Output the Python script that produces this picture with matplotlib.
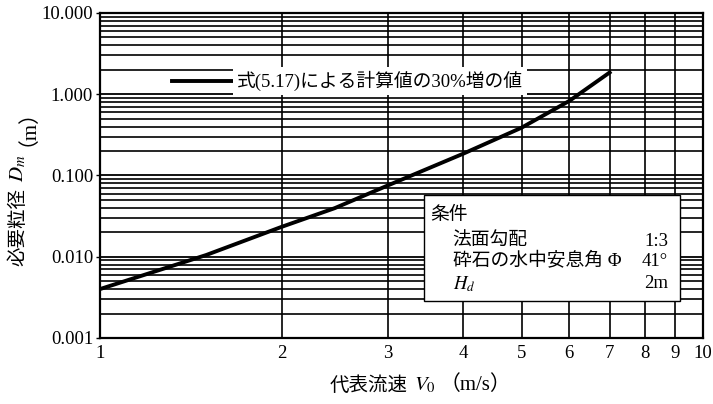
import numpy as np
import matplotlib.pyplot as plt
from matplotlib.ticker import FixedLocator, NullFormatter, NullLocator

plt.rcParams['mathtext.fontset'] = 'stix'

SERIF = 'Liberation Serif'
JP = ['Noto Sans CJK JP', 'DejaVu Sans']
# serif for latin/digits, CJK font for the Japanese characters
MIX = [SERIF, 'Noto Sans CJK JP', 'DejaVu Sans']

# curve
velocity = [1.0, 1.5, 2.0, 2.45, 3.0, 4.0, 5.0, 6.0, 7.0]
diameter = [0.0040, 0.0105, 0.0233, 0.0396, 0.0753, 0.185, 0.387, 0.826, 1.85]

x_ticks = [1, 2, 3, 4, 5, 6, 7, 8, 9, 10]
y_ticks = [0.001, 0.01, 0.1, 1.0, 10.0]
y_labels = ['0.001', '0.010', '0.100', '1.000', '10.000']

legend_text = '式(5.17)による計算値の30%増の値'
cond_rows = [('法面勾配', '1:3'), ('砕石の水中安息角 Φ', '41°'), ('$H_d$', '2m')]

fig = plt.figure(figsize=(7.13, 4.04), dpi=100)
ax = fig.add_axes([0.1403, 0.1634, 0.8457, 0.8045])
ax.set_xscale('log')
ax.set_yscale('log')
ax.set_xlim(1, 10)
ax.set_ylim(0.001, 10)

# log paper grid
for dec in [0.001, 0.01, 0.1, 1.0]:
    for m in range(2, 10):
        ax.axhline(dec * m, color='black', lw=1.2, zorder=1)
    ax.axhline(dec, color='black', lw=1.3, zorder=1)
for xv in x_ticks[1:-1]:
    ax.axvline(xv, color='black', lw=1.2, zorder=1)

ax.plot(velocity, diameter, color='black', lw=2.8, zorder=3,
        solid_joinstyle='round')

ax.xaxis.set_major_locator(FixedLocator(x_ticks))
ax.xaxis.set_minor_locator(NullLocator())
ax.set_xticklabels([str(v) for v in x_ticks], fontfamily=SERIF, fontsize=13.5)
ax.yaxis.set_major_locator(FixedLocator(y_ticks))
ax.yaxis.set_minor_locator(NullLocator())
ax.yaxis.set_minor_formatter(NullFormatter())
ax.set_yticklabels(y_labels, fontfamily=SERIF, fontsize=13.5)
ax.tick_params(axis='x', length=0, pad=5)
ax.tick_params(axis='y', length=3, width=1, pad=2)
for s in ax.spines.values():
    s.set_linewidth(1.6)

# legend line + text with blanked background
ax.plot([0.119, 0.224], [0.791, 0.791], transform=ax.transAxes,
        color='black', lw=2.8, zorder=4)
ax.text(0.227, 0.791, legend_text, transform=ax.transAxes, fontsize=13.5,
        va='center', ha='left', family=MIX, zorder=4,
        bbox=dict(facecolor='white', edgecolor='none', pad=3))

# conditions box
box = plt.Rectangle((0.537, 0.114), 0.424, 0.325, transform=ax.transAxes,
                    facecolor='white', edgecolor='black', lw=1.0, zorder=5)
ax.add_patch(box)
ax.text(0.548, 0.378, '条件', transform=ax.transAxes, fontsize=13.5,
        va='center', ha='left', family=MIX, zorder=6)
row_y = [0.298, 0.235, 0.167]
for (lab, val), yy in zip(cond_rows, row_y):
    ax.text(0.585, yy, lab, transform=ax.transAxes, fontsize=13.5,
            va='center', ha='left', family=MIX, zorder=6)
    ax.text(0.942, yy, val, transform=ax.transAxes, fontsize=13.5,
            va='center', ha='right', family=MIX, zorder=6)

# axis labels, built from pieces so each part gets its own font
fig.text(0.571, 0.047, '代表流速', fontsize=14, family=JP,
         ha='right', va='center')
fig.text(0.581, 0.047, '$V_0$', fontsize=15, ha='left', va='center')
fig.text(0.617, 0.047, '（m/s）', fontsize=15, family=MIX,
         ha='left', va='center')

fig.text(0.025, 0.439, '必要粒径', fontsize=14, family=JP,
         ha='center', va='center', rotation=90)
fig.text(0.025, 0.583, '$D_m$', fontsize=15,
         ha='center', va='center', rotation=90)
fig.text(0.025, 0.71, '（m）', fontsize=15, family=MIX,
         ha='center', va='center', rotation=90)

fig.savefig('out.png', dpi=100)
